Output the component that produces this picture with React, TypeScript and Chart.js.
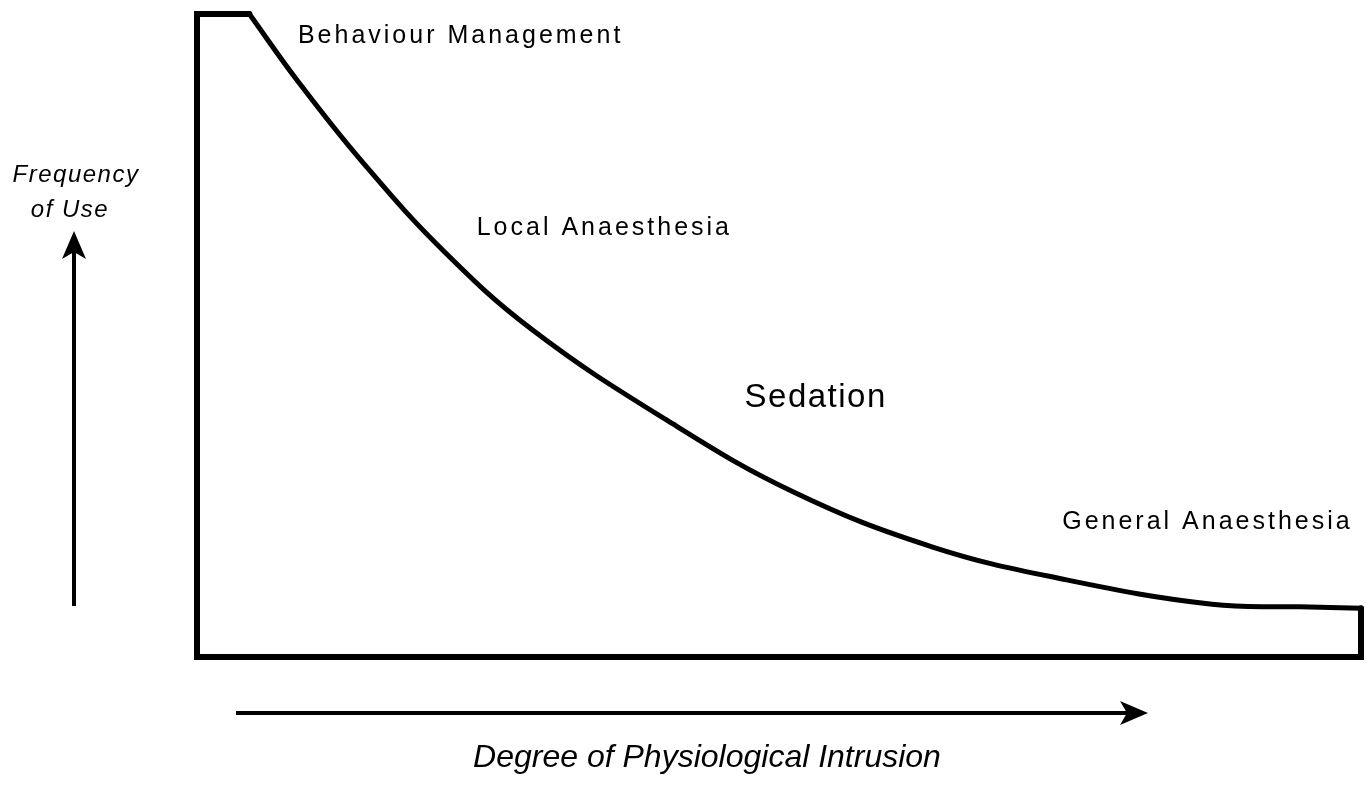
import React, { useEffect, useRef } from "react";
import { Chart, registerables } from "chart.js";

Chart.register(...registerables);

// Curve: degree of physiological intrusion (0-100) vs frequency of use (0-100)
const intrusion = [4.5, 8.6, 14.2, 21.1, 28.8, 40.3, 51.2, 63.2, 74.7, 87.2, 94.7, 100];
const frequency = [100, 89.7, 77.0, 63.3, 50.9, 36.9, 25.7, 17.1, 12.0, 8.2, 7.8, 7.6];

// Frame outline (top step, left wall, bottom, right wall)
const frameX = [4.5, 0, 0, 100, 100];
const frameY = [100, 100, 0, 0, 7.6];

const techniqueLabels = ["Behaviour Management", "Local Anaesthesia", "Sedation", "General Anaesthesia"];
const yAxisLines = ["Frequency", "of Use"];
const xAxisTitle = "Degree of Physiological Intrusion";

const FONT = "'Liberation Sans', Arial, sans-serif";

function drawArrowHead(ctx: CanvasRenderingContext2D, tipX: number, tipY: number, dir: "up" | "right") {
  ctx.beginPath();
  if (dir === "right") {
    ctx.moveTo(tipX, tipY);
    ctx.lineTo(tipX - 28, tipY - 12);
    ctx.lineTo(tipX - 21, tipY);
    ctx.lineTo(tipX - 28, tipY + 12);
  } else {
    ctx.moveTo(tipX, tipY);
    ctx.lineTo(tipX - 12, tipY + 28);
    ctx.lineTo(tipX, tipY + 21);
    ctx.lineTo(tipX + 12, tipY + 28);
  }
  ctx.closePath();
  ctx.fill();
}

const decorPlugin = {
  id: "decor",
  afterDraw(chart: any) {
    const ctx: CanvasRenderingContext2D = chart.ctx;
    const xs = chart.scales.x;
    const ys = chart.scales.y;
    ctx.save();
    ctx.fillStyle = "#000";
    ctx.strokeStyle = "#000";

    // technique labels, anchored in data coordinates
    const anchors = [
      { x: 8.67, y: 95.5, size: 25, spacing: 3 },
      { x: 24.03, y: 65.6, size: 25, spacing: 3 },
      { x: 47.04, y: 38.9, size: 33, spacing: 1.5 },
      { x: 74.33, y: 19.9, size: 25, spacing: 3 },
    ];
    ctx.textAlign = "left";
    ctx.textBaseline = "alphabetic";
    techniqueLabels.forEach((t, i) => {
      const a = anchors[i];
      ctx.font = `${a.size}px ${FONT}`;
      (ctx as any).letterSpacing = `${a.spacing}px`;
      ctx.fillText(t, xs.getPixelForValue(a.x), ys.getPixelForValue(a.y));
    });

    // y axis title
    ctx.textAlign = "center";
    ctx.font = `italic 24px ${FONT}`;
    (ctx as any).letterSpacing = "1.5px";
    ctx.fillText(yAxisLines[0], 76, 182);
    ctx.fillText(yAxisLines[1], 70, 217);

    // x axis title
    ctx.font = `italic 32px ${FONT}`;
    (ctx as any).letterSpacing = "0px";
    ctx.fillText(xAxisTitle, 707, 767);

    // arrows
    ctx.lineWidth = 4;
    ctx.lineCap = "butt";
    ctx.beginPath();
    ctx.moveTo(74, 606);
    ctx.lineTo(74, 250);
    ctx.stroke();
    drawArrowHead(ctx, 74, 231, "up");

    ctx.beginPath();
    ctx.moveTo(236, 713);
    ctx.lineTo(1130, 713);
    ctx.stroke();
    drawArrowHead(ctx, 1148, 713, "right");

    ctx.restore();
  },
};

export default function App() {
  const ref = useRef<HTMLCanvasElement | null>(null);

  useEffect(() => {
    document.body.style.margin = "0";
    document.body.style.background = "#fff";
    const canvas = ref.current!;
    const chart = new Chart(canvas, {
      type: "line",
      data: {
        datasets: [
          {
            data: frameX.map((x, i) => ({ x, y: frameY[i] })),
            borderColor: "#000",
            borderWidth: 6,
            pointRadius: 0,
            tension: 0,
            fill: false,
            borderJoinStyle: "miter",
            borderCapStyle: "round",
          } as any,
          {
            data: intrusion.map((x, i) => ({ x, y: frequency[i] })),
            borderColor: "#000",
            borderWidth: 5,
            pointRadius: 0,
            tension: 0.4,
            fill: false,
            borderCapStyle: "round",
          } as any,
        ],
      },
      options: {
        animation: false,
        responsive: false,
        clip: false as any,
        layout: { padding: { left: 197, top: 14, right: 11, bottom: 130 } },
        plugins: { legend: { display: false }, tooltip: { enabled: false } },
        scales: {
          x: { type: "linear", min: 0, max: 100, display: false },
          y: { type: "linear", min: 0, max: 100, display: false },
        },
      },
      plugins: [decorPlugin],
    });
    return () => chart.destroy();
  }, []);

  return (
    <div style={{ position: "fixed", left: 0, top: 0, width: 1372, height: 787, background: "#fff" }}>
      <canvas ref={ref} width={1372} height={787} style={{ width: 1372, height: 787, display: "block" }} />
    </div>
  );
}
